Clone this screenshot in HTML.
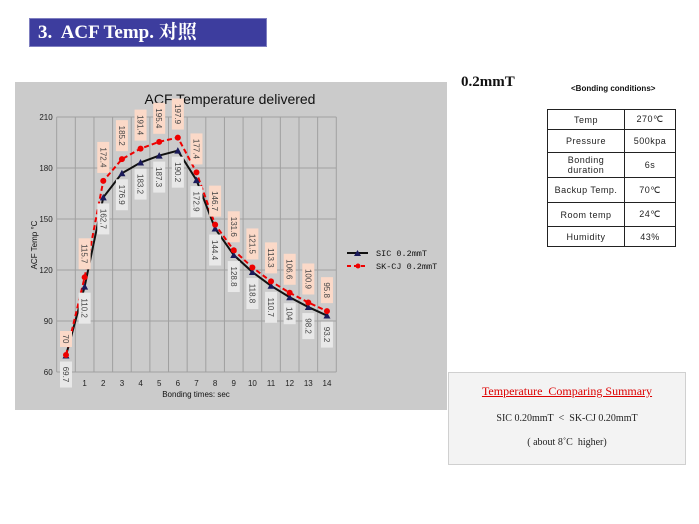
<!DOCTYPE html>
<html><head><meta charset="utf-8"><style>
body{margin:0;width:699px;height:524px;background:#fff;position:relative;overflow:hidden;font-family:"Liberation Sans",sans-serif}
.abs{position:absolute}
table{border-collapse:collapse}
td{border:1px solid #222;text-align:center;font-size:9px;color:#222;padding:0;letter-spacing:.5px}
</style></head><body>
<div class="abs" style="left:29px;top:18px;width:238px;height:29px;background:#3d3d9e;border:1px solid #7f7fc0;box-sizing:border-box;color:#fff;font:bold 19px 'Liberation Serif','Noto Serif CJK SC',serif;line-height:28px;padding-left:8px">3.&nbsp; ACF Temp. 对照</div>

<svg class="abs" style="left:0;top:0" width="699" height="524">
<rect x="15" y="82" width="432" height="328" fill="#cbcbcb"/>
<text x="230" y="104" font-size="14" text-anchor="middle" fill="#111" font-family="Liberation Sans">ACF Temperature delivered</text>
<g id="grid"></g><g id="axes"></g><g id="series"></g>
<text x="37" y="245" font-size="8" fill="#111" transform="rotate(-90 37 245)" text-anchor="middle">ACF  Temp  °C</text>
<text x="196" y="397" font-size="8" fill="#111" text-anchor="middle">Bonding  times: sec</text>
<g>
<line x1="347" y1="253" x2="368" y2="253" stroke="#111" stroke-width="2"/><path d="M354,256 L357.5,250 L361,256Z" fill="#1a1a5a"/>
<text x="376" y="256" font-size="8.5" font-family="Liberation Mono" fill="#111">SIC 0.2mmT</text>
<line x1="347" y1="266" x2="368" y2="266" stroke="#e00" stroke-width="2" stroke-dasharray="4,3"/><circle cx="358" cy="266" r="2.5" fill="#e00"/>
<text x="376" y="269" font-size="8.5" font-family="Liberation Mono" fill="#111">SK-CJ 0.2mmT</text>
</g>
</svg>

<div class="abs" style="left:461px;top:74px;font:bold 15px 'Liberation Serif',serif;color:#111">0.2mmT</div>
<div class="abs" style="left:571px;top:84px;font:bold 8px 'Liberation Sans',sans-serif;color:#111">&lt;Bonding conditions&gt;</div>
<table class="abs" style="left:547px;top:109px;width:129px">
<tr style="height:20px"><td style="width:76px">Temp</td><td>270℃</td></tr>
<tr style="height:23px"><td>Pressure</td><td>500kpa</td></tr>
<tr style="height:25px"><td>Bonding duration</td><td>6s</td></tr>
<tr style="height:25px"><td>Backup Temp.</td><td>70℃</td></tr>
<tr style="height:24px"><td>Room temp</td><td>24℃</td></tr>
<tr style="height:20px"><td>Humidity</td><td>43%</td></tr>
</table>

<div class="abs" style="left:448px;top:372px;width:238px;height:93px;background:#f3f3f3;border:1px solid #d0d0d0;box-sizing:border-box;font-family:'Liberation Serif',serif;text-align:center;color:#222">
<div style="margin-top:11px;font-size:12px;color:#d00;text-decoration:underline">Temperature&nbsp; Comparing Summary</div>
<div style="margin-top:14px;font-size:10px">SIC 0.20mmT&nbsp; &lt;&nbsp; SK-CJ 0.20mmT</div>
<div style="margin-top:13px;font-size:10px">( about 8˚C&nbsp; higher)</div>
</div>

<script>
const categories=[0,1,2,3,4,5,6,7,8,9,10,11,12,13,14];
const sicValues=[69.7,110.2,162.7,176.9,183.2,187.3,190.2,172.9,144.4,128.8,118.8,110.7,104,98.2,93.2];
const sicLabels=["69.7","110.2","162.7","176.9","183.2","187.3","190.2","172.9","144.4","128.8","118.8","110.7","104","98.2","93.2"];
const skcjValues=[70,115.7,172.4,185.2,191.4,195.4,197.9,177.4,146.7,131.6,121.5,113.3,106.6,100.9,95.8];
const skcjLabels=["70","115.7","172.4","185.2","191.4","195.4","197.9","177.4","146.7","131.6","121.5","113.3","106.6","100.9","95.8"];
const yTicks=[60,90,120,150,180,210];
const NS="http://www.w3.org/2000/svg";
const X0=66,DX=18.64,Y0=372,YS=1.7;
const xs=i=>X0+i*DX, ys=v=>Y0-(v-60)*YS;
function mk(t,a,p){const e=document.createElementNS(NS,t);for(const k in a)e.setAttribute(k,a[k]);p.appendChild(e);return e;}
const grid=document.getElementById('grid'),axes=document.getElementById('axes'),ser=document.getElementById('series');
const L=xs(-0.5),R=xs(categories.length-0.5);
yTicks.forEach(v=>{
 const l=mk('line',{x1:L,x2:R,y1:ys(v),y2:ys(v),stroke:'#a0a0a0','stroke-width':1},grid);
 
 
 const t=mk('text',{x:L-4,y:ys(v)+3,'font-size':8,'text-anchor':'end',fill:'#222'},axes);
 t.textContent=v;
 
 
});
for(let i=0;i<=categories.length;i++){
 const l=mk('line',{x1:xs(i-0.5),x2:xs(i-0.5),y1:ys(210),y2:ys(60),stroke:'#a0a0a0','stroke-width':1},grid);
 
 
}
categories.forEach((c,i)=>{
 const t=mk('text',{x:xs(i),y:ys(60)+14,'font-size':8,'text-anchor':'middle',fill:'#222'},axes);
 t.textContent=c;
 
 
});
function label(x,y,txt,bg,above){
 const h=txt.length*5+6;
 const y1=above?y-8-h:y+6;
 const g=mk('g',{},ser);
 
 
 mk('rect',{x:x-6,y:y1,width:12,height:h,fill:bg},g);
 const t=mk('text',{x:x-3,y:y1+h/2,'font-size':8,fill:'#444','text-anchor':'middle',transform:`rotate(90 ${x-3} ${y1+h/2})`},g);
 t.textContent=txt;
}
const pSic=mk('polyline',{points:sicValues.map((v,i)=>xs(i)+','+ys(v)).join(' '),fill:'none',stroke:'#111','stroke-width':2},ser);


const pSk=mk('polyline',{points:skcjValues.map((v,i)=>xs(i)+','+ys(v)).join(' '),fill:'none',stroke:'#e00','stroke-width':2,'stroke-dasharray':'5,3'},ser);


sicValues.forEach((v,i)=>{
 const m=mk('path',{d:`M${xs(i)-3.5},${ys(v)+3} L${xs(i)},${ys(v)-3.5} L${xs(i)+3.5},${ys(v)+3}Z`,fill:'#1a1a5a'},ser);
 
 
 label(xs(i),ys(v),sicLabels[i],'#e8e8e8',false);
});
skcjValues.forEach((v,i)=>{
 const m=mk('circle',{cx:xs(i),cy:ys(v),r:3,fill:'#e00'},ser);
 
 
 label(xs(i),ys(v),skcjLabels[i],'#fbd9c8',true);
});
</script>
</body></html>
